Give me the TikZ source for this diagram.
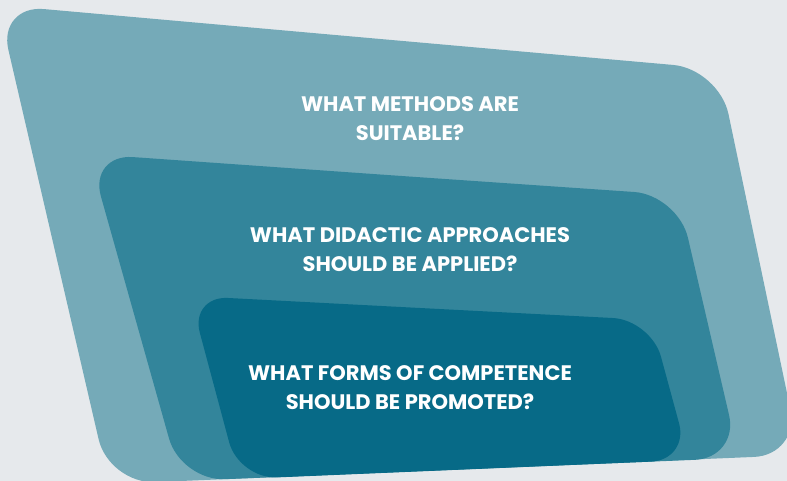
\documentclass[tikz,border=0pt]{standalone}
\usepackage{fontspec}
\setmainfont{Poppins}
\definecolor{bgc}{HTML}{E6E9EC}
\definecolor{outerc}{HTML}{75AAB8}
\definecolor{midc}{HTML}{33859B}
\definecolor{innerc}{HTML}{076A87}
\begin{document}
\begin{tikzpicture}[x=1pt,y=-1pt,
  lbl/.style={text=white,font=\bfseries\fontsize{21}{29}\selectfont,align=center,inner sep=0pt}]
\useasboundingbox (0,0) rectangle (787,481);
\fill[bgc] (0,0) rectangle (787,481);
\begin{scope}
\clip (0,0) rectangle (787,481);
% outer shape
\coordinate (o0) at (360,37.2);
\coordinate (o1) at (719,69);
\coordinate (o2) at (800,455);
\coordinate (o3) at (109,484);
\coordinate (o4) at (-2,5);
\fill[outerc, rounded corners=46pt] (o0) -- (o1) -- (o2) -- (o3) -- (o4) -- cycle;
% middle shape
\coordinate (m0) at (400,175.9);
\coordinate (m1) at (678,195);
\coordinate (m2) at (739,458);
\coordinate (m3) at (181,481);
\coordinate (m4) at (89,154);
\fill[midc, rounded corners=44pt] (m0) -- (m1) -- (m2) -- (m3) -- (m4) -- cycle;
% inner shape
\coordinate (i0) at (420,308);
\coordinate (i1) at (651,320);
\coordinate (i2) at (689,460);
\coordinate (i3) at (239,479);
\coordinate (i4) at (190,296);
\fill[innerc, rounded corners=38pt] (i0) -- (i1) -- (i2) -- (i3) -- (i4) -- cycle;
\end{scope}
\node[lbl, anchor=base] (t1) at (410,141) {WHAT METHODS ARE\\SUITABLE?};
\node[lbl, anchor=base] (t2) at (410,271) {WHAT DIDACTIC APPROACHES\\SHOULD BE APPLIED?};
\node[lbl, anchor=base] (t3) at (410,409) {WHAT FORMS OF COMPETENCE\\SHOULD BE PROMOTED?};
\end{tikzpicture}
\end{document}
